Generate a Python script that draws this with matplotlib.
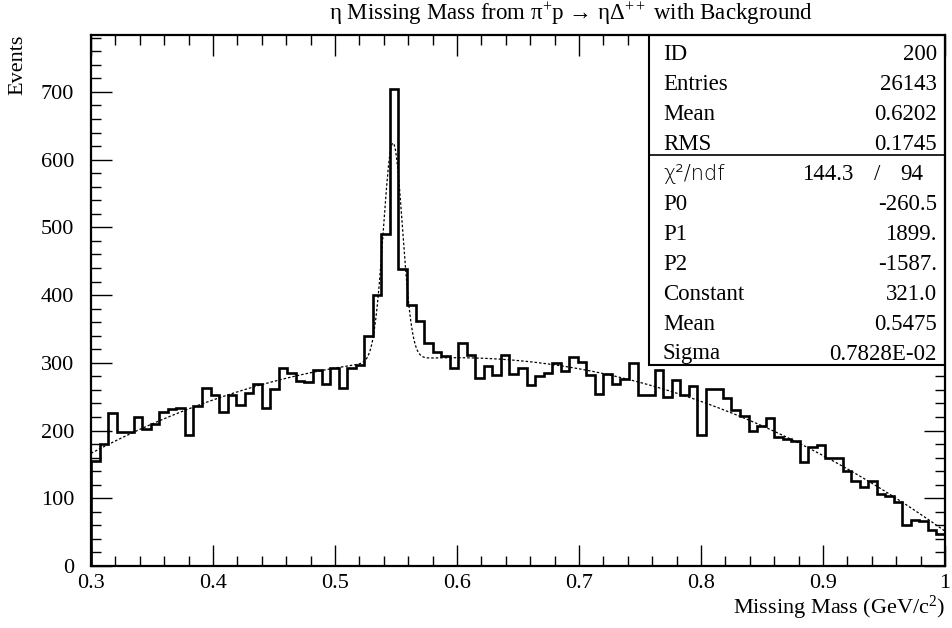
import numpy as np
import matplotlib
matplotlib.use("Agg")
import matplotlib.pyplot as plt
from matplotlib.patches import Rectangle
from matplotlib.ticker import MultipleLocator

plt.rcParams['font.family'] = ['Liberation Serif', 'DejaVu Serif']
plt.rcParams['mathtext.fontset'] = 'custom'
plt.rcParams['mathtext.rm'] = 'Liberation Serif'
plt.rcParams['mathtext.it'] = 'Liberation Serif:italic'

# ---- data ----
bin_lo = 0.3
bin_hi = 1.0
n_bins = 100
counts = [155, 180, 226, 198, 198, 220, 203, 210, 228, 232,
          233, 193, 236, 263, 252, 228, 253, 237, 256, 268,
          234, 261, 292, 285, 273, 271, 290, 268, 292, 263,
          293, 297, 340, 400, 490, 705, 438, 385, 361, 329,
          316, 310, 292, 329, 312, 278, 296, 282, 311, 283,
          292, 267, 280, 285, 299, 288, 308, 301, 282, 254,
          283, 268, 276, 300, 253, 253, 289, 249, 274, 253,
          266, 193, 262, 262, 248, 231, 222, 200, 206, 218,
          191, 188, 184, 154, 175, 178, 160, 160, 140, 125,
          116, 126, 107, 103, 95, 61, 68, 67, 53, 47]

# fit parameters (as printed in stats box)
fit_p0, fit_p1, fit_p2 = -260.5, 1899.0, -1587.0
fit_const, fit_mean, fit_sigma = 321.0, 0.5475, 0.7828e-02

stat_labels = ["ID", "Entries", "Mean", "RMS"]
stat_values = ["200", "26143", "0.6202", "0.1745"]
fit_labels = ["P0", "P1", "P2", "Constant", "Mean", "Sigma"]
fit_values = ["-260.5", "1899.", "-1587.", "321.0", "0.5475", "0.7828E-02"]
chi2_value = "144.3"
ndf_value = "94"

xticks = [0.3, 0.4, 0.5, 0.6, 0.7, 0.8, 0.9, 1.0]
xticklabels = ["0.3", "0.4", "0.5", "0.6", "0.7", "0.8", "0.9", "1"]
yticks = [0, 100, 200, 300, 400, 500, 600, 700]

# ---- figure ----
W, H = 953, 628
fig = plt.figure(figsize=(W / 100, H / 100), dpi=100)
L, R, T, B = 91, 945, 35, 566
ax = fig.add_axes([L / W, (H - B) / H, (R - L) / W, (B - T) / H])

edges = np.linspace(bin_lo, bin_hi, n_bins + 1)
ax.stairs(counts, edges, color='black', lw=1.9, zorder=1.5)

xf = np.linspace(bin_lo, bin_hi, 1000)
yf = (fit_p0 + fit_p1 * xf + fit_p2 * xf ** 2
      + fit_const * np.exp(-0.5 * ((xf - fit_mean) / fit_sigma) ** 2))
ax.plot(xf, yf, color='black', lw=0.9, ls=(0, (2, 1.6)), zorder=1.6)

ax.set_xlim(bin_lo, bin_hi)
ax.set_ylim(0, 784)
ax.set_xticks(xticks)
ax.set_xticklabels(xticklabels)
ax.set_yticks(yticks)
ax.xaxis.set_minor_locator(MultipleLocator(0.02))
ax.yaxis.set_minor_locator(MultipleLocator(20))
ax.tick_params(which='both', direction='in', top=True, right=True,
               labelsize=16, width=1.0)
ax.tick_params(which='major', length=15)
ax.tick_params(which='minor', length=7)
ax.tick_params(axis='x', pad=6)
ax.tick_params(axis='y', pad=12)
for s in ax.spines.values():
    s.set_linewidth(1.6)

fig.text(571 / W, 1 - 14 / H,
         r'η Missing Mass from π$^{+}$p → ηΔ$^{++}$ with Background',
         ha='center', va='center', fontsize=16.5)
fig.text(945 / W, 1 - 608 / H, r'Missing Mass (GeV/c$^{2}$)',
         ha='right', va='center', fontsize=16)
fig.text(18 / W, 1 - 35 / H, 'Events', rotation=90, ha='center', va='top',
         fontsize=16)

# ---- stats box ----
def fx(px):
    return (px - L) / (R - L)

def fy(py):
    return (B - py) / (B - T)

box_l, box_b = 649, 365
ax.add_patch(Rectangle((fx(box_l), fy(box_b)), 1 - fx(box_l), 1 - fy(box_b),
                       transform=ax.transAxes, facecolor='white',
                       edgecolor='black', lw=1.5, zorder=2))
row_h = (box_b - T) / 11
sep_y = T + 4 * row_h
ax.plot([fx(box_l), 1], [fy(sep_y), fy(sep_y)], transform=ax.transAxes,
        color='black', lw=1.2, zorder=2.1)

lab_x, val_x = 663, 937
dy = 4
for i, (lab, val) in enumerate(zip(stat_labels, stat_values)):
    yc = T + (i + 0.5) * row_h + dy
    ax.text(fx(lab_x), fy(yc), lab, transform=ax.transAxes, ha='left',
            va='center', fontsize=16.5, zorder=3)
    ax.text(fx(val_x), fy(yc), val, transform=ax.transAxes, ha='right',
            va='center', fontsize=16.5, zorder=3)

yc = T + 4.5 * row_h + dy
ax.text(fx(lab_x), fy(yc), 'χ²/ndf', transform=ax.transAxes, ha='left',
        va='center', fontsize=15, family=['DejaVu Sans'], fontweight='light',
        zorder=3)
ax.text(fx(853), fy(yc), chi2_value, transform=ax.transAxes, ha='right',
        va='center', fontsize=16.5, zorder=3)
ax.text(fx(877), fy(yc), '/', transform=ax.transAxes, ha='center',
        va='center', fontsize=16.5, zorder=3)
ax.text(fx(923), fy(yc), ndf_value, transform=ax.transAxes, ha='right',
        va='center', fontsize=16.5, zorder=3)

for i, (lab, val) in enumerate(zip(fit_labels, fit_values)):
    yc = T + (i + 5.5) * row_h + dy
    ax.text(fx(lab_x), fy(yc), lab, transform=ax.transAxes, ha='left',
            va='center', fontsize=16.5, zorder=3)
    ax.text(fx(val_x), fy(yc), val, transform=ax.transAxes, ha='right',
            va='center', fontsize=16.5, zorder=3)

fig.savefig('out.png', dpi=100)
